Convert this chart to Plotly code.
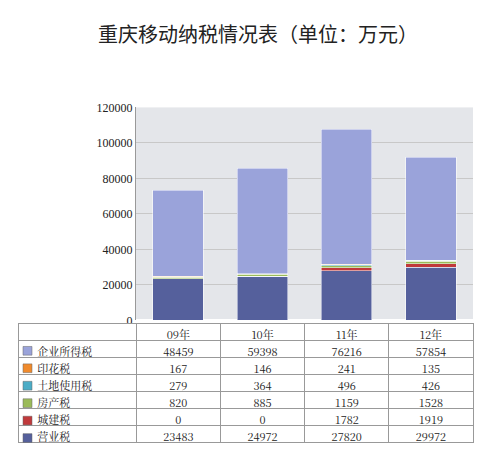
import plotly.graph_objects as go

years = ["09年", "10年", "11年", "12年"]
series_names = ["企业所得税", "印花税", "土地使用税", "房产税", "城建税", "营业税"]
qiye = [48459, 59398, 76216, 57854]
yinhua = [167, 146, 241, 135]
tudi = [279, 364, 496, 426]
fangchan = [820, 885, 1159, 1528]
chengjian = [0, 0, 1782, 1919]
yingye = [23483, 24972, 27820, 29972]
colors = ["#9aa3da", "#f08a2c", "#4bacc6", "#9bbb59", "#c0393b", "#55609c"]
values = [qiye, yinhua, tudi, fangchan, chengjian, yingye]

fig = go.Figure()
for name, vals, col in reversed(list(zip(series_names, values, colors))):
    fig.add_trace(go.Bar(x=years, y=vals, name=name, marker=dict(color=col, line=dict(color="#ffffff", width=0.5)),
                         width=0.6, showlegend=False, xaxis="x", yaxis="y"))

RH = 17
fig.add_trace(go.Table(
    domain=dict(x=[0.02, 0.93], y=[0.0, 0.30]),
    columnwidth=[118, 84, 84, 84, 84],
    header=dict(values=[""] + years, height=RH, fill_color="white",
                line=dict(color="#999999", width=1), align="center",
                font=dict(family="Noto Serif CJK SC, Noto Sans CJK SC", size=11, color="#222")),
    cells=dict(values=[["    " + n for n in series_names]] + [[v[i] for v in values] for i in range(4)],
               height=RH, fill_color="white", line=dict(color="#999999", width=1),
               align=["left", "center", "center", "center", "center"],
               font=dict(family="Noto Serif CJK SC, Noto Sans CJK SC", size=11, color="#222")),
))

shapes = []
for i, col in enumerate(colors):
    ytop = 338 + i * 18 + 4
    shapes.append(dict(type="rect", xref="paper", yref="paper",
                       x0=15/500, x1=24/500, y0=1-(ytop+9)/454, y1=1-ytop/454,
                       fillcolor=col, line=dict(color="#666", width=0.5)))

fig.update_layout(
    width=500, height=454, margin=dict(l=0, r=0, t=0, b=0),
    paper_bgcolor="white", plot_bgcolor="#e4e6ea",
    barmode="stack", bargap=0.4, shapes=shapes,
    title=dict(text="重庆移动纳税情况表（单位：万元）", x=0.5, xanchor="center", y=0.955,
               font=dict(family="Noto Sans CJK SC", size=20, color="#222")),
    xaxis=dict(domain=[0.256, 0.93], anchor="y", showticklabels=False, showgrid=False),
    yaxis=dict(domain=[0.306, 0.79], range=[0, 120000], dtick=20000, gridcolor="#c8c8c8",
               tickformat="d",
               tickfont=dict(family="Liberation Serif", size=12, color="#222"), showline=True, linecolor="#999"),
)
fig.write_html("out.html")
